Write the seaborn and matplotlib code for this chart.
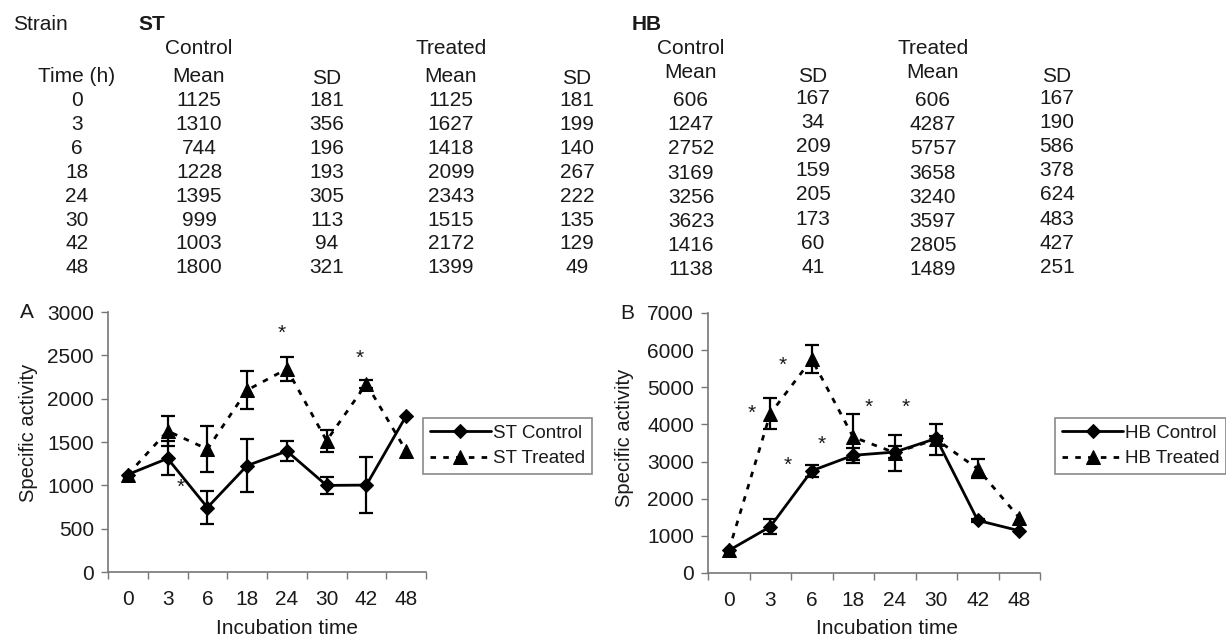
import matplotlib
matplotlib.use('Agg')
import matplotlib.pyplot as plt
import seaborn as sns
import numpy as np
import pandas as pd
from matplotlib.ticker import FixedLocator

# ---------------- data (table) ----------------
times = ['0', '3', '6', '18', '24', '30', '42', '48']
st_ctrl_mean = [1125, 1310, 744, 1228, 1395, 999, 1003, 1800]
st_ctrl_sd = [181, 356, 196, 193, 305, 113, 94, 321]
st_trt_mean = [1125, 1627, 1418, 2099, 2343, 1515, 2172, 1399]
st_trt_sd = [181, 199, 140, 267, 222, 135, 129, 49]
hb_ctrl_mean = [606, 1247, 2752, 3169, 3256, 3623, 1416, 1138]
hb_ctrl_sd = [167, 34, 209, 159, 205, 173, 60, 41]
hb_trt_mean = [606, 4287, 5757, 3658, 3240, 3597, 2805, 1489]
hb_trt_sd = [167, 190, 586, 378, 624, 483, 427, 251]

# error-bar half lengths as drawn in the charts (0 = no bar visible)
st_ctrl_bar = [0, 196, 193, 305, 113, 94, 321, 0]
st_trt_bar = [0, 175, 267, 222, 135, 129, 49, 0]
hb_ctrl_bar = [0, 209, 159, 205, 173, 60, 41, 0]
hb_trt_bar = [0, 417, 378, 624, 483, 427, 251, 0]

st_yticks = [0, 500, 1000, 1500, 2000, 2500, 3000]
hb_yticks = [0, 1000, 2000, 3000, 4000, 5000, 6000, 7000]

# significance asterisks (category position, value)
st_stars = [(3.88, 2758), (5.84, 2469), (1.34, 981)]
hb_stars = [(0.56, 4308), (1.31, 5600), (1.43, 2908), (2.25, 3473), (3.38, 4469), (4.27, 4469)]

# ---------------- style ----------------
sns.set_style('ticks')
plt.rcParams['font.family'] = ['Liberation Sans', 'DejaVu Sans']
INK = '#1a1a1a'
AXC = '#777777'

W, H = 1226, 638
fig = plt.figure(figsize=(W / 100, H / 100), dpi=100)


def fx(x):
    return x / W


def fy(y):
    return 1 - y / H


# ---------------- table ----------------
TFS = 15


def t(x, y, s, ha='center', bold=False):
    fig.text(fx(x), fy(y), s, ha=ha, va='center', fontsize=TFS, color=INK,
             fontweight='bold' if bold else 'normal')


t(13, 25, 'Strain', ha='left')
t(138, 25, 'ST', ha='left', bold=True)
t(199, 49, 'Control')
t(451, 49, 'Treated')
t(77, 77, 'Time (h)')
t(199, 77, 'Mean')
t(327, 78, 'SD')
t(451, 77, 'Mean')
t(577, 78, 'SD')
for k in range(len(times)):
    y = 101 + 23.8 * k
    t(77, y, times[k])
    t(199, y, str(st_ctrl_mean[k]))
    t(327, y, str(st_ctrl_sd[k]))
    t(451, y, str(st_trt_mean[k]))
    t(577, y, str(st_trt_sd[k]))

t(632, 25, 'HB', ha='left', bold=True)
t(691, 48, 'Control')
t(933, 48, 'Treated')
t(691, 72, 'Mean')
t(813, 76, 'SD')
t(933, 72, 'Mean')
t(1057, 76, 'SD')
for k in range(len(times)):
    y = 100.5 + 24.2 * k
    t(691, y, str(hb_ctrl_mean[k]))
    t(813, y - 2.5, str(hb_ctrl_sd[k]))
    t(933, y, str(hb_trt_mean[k]))
    t(1057, y - 2.5, str(hb_trt_sd[k]))


# ---------------- panels ----------------
def bars(ax, pos, mean, err):
    keep = [i for i in range(len(pos)) if err[i] > 0]
    ax.errorbar([pos[i] for i in keep], [mean[i] for i in keep],
                yerr=[err[i] for i in keep], fmt='none', ecolor='black',
                elinewidth=1.6, capsize=5, capthick=1.6, zorder=2)


def panel(rect, cm, cbar, tm, tbar, names, yticks, stars, leg_xy, letter_xy,
          letter, ylab_xy, xlab_xy):
    ax = fig.add_axes(rect)
    pos = np.arange(len(times))
    df = pd.DataFrame({'pos': pos, 'ctrl': cm, 'trt': tm})
    sns.lineplot(data=df, x='pos', y='trt', ax=ax, color='black', lw=2,
                 linestyle=(0, (2, 2.6)), marker='^', markersize=10,
                 markeredgecolor='black', label=names[1], zorder=3)
    sns.lineplot(data=df, x='pos', y='ctrl', ax=ax, color='black', lw=2,
                 linestyle='-', marker='D', markersize=7.5,
                 markeredgecolor='black', label=names[0], zorder=4)
    bars(ax, pos, tm, tbar)
    bars(ax, pos, cm, cbar)

    ax.set_xlim(-0.5, len(times) - 0.5)
    ax.set_ylim(yticks[0], yticks[-1])
    ax.set_xticks(pos)
    ax.set_xticklabels(times)
    ax.xaxis.set_minor_locator(FixedLocator(np.arange(-0.5, len(times), 1.0)))
    ax.set_yticks(yticks)
    ax.tick_params(axis='x', which='major', length=0, pad=13, labelsize=15,
                   labelcolor=INK)
    ax.tick_params(axis='x', which='minor', length=5, width=1, color=AXC,
                   direction='out')
    ax.tick_params(axis='y', length=5, width=1, color=AXC, pad=5,
                   labelsize=15, labelcolor=INK)
    for s in ['top', 'right']:
        ax.spines[s].set_visible(False)
    for s in ['left', 'bottom']:
        ax.spines[s].set_color(AXC)
        ax.spines[s].set_linewidth(1.2)
    ax.set_xlabel('')
    ax.set_ylabel('')
    ax.set_facecolor('none')

    for (xs, ys) in stars:
        ax.text(xs, ys, '*', ha='center', va='center', fontsize=15, color=INK)

    h, l = ax.get_legend_handles_labels()
    order = [l.index(names[0]), l.index(names[1])]
    leg = ax.legend([h[i] for i in order], [l[i] for i in order],
                    loc='upper left', bbox_to_anchor=(fx(leg_xy[0]), fy(leg_xy[1])),
                    bbox_transform=fig.transFigure, borderaxespad=0,
                    fontsize=13.5, handlelength=3.3, handletextpad=0.1,
                    borderpad=0.35, labelspacing=0.45, fancybox=False,
                    framealpha=1, edgecolor='#8a8a8a')
    leg.get_frame().set_linewidth(1.2)
    for txt in leg.get_texts():
        txt.set_color(INK)

    fig.text(fx(letter_xy[0]), fy(letter_xy[1]), letter, ha='center', va='center',
             fontsize=15, color=INK)
    fig.text(fx(ylab_xy[0]), fy(ylab_xy[1]), 'Specific activity', rotation=90,
             ha='center', va='center', fontsize=14.5, color=INK)
    fig.text(fx(xlab_xy[0]), fy(xlab_xy[1]), 'Incubation time', ha='center',
             va='center', fontsize=15, color=INK)
    return ax


panel([fx(108), fy(572), (426 - 108) / W, (572 - 312) / H],
      st_ctrl_mean, st_ctrl_bar, st_trt_mean, st_trt_bar,
      ['ST Control', 'ST Treated'], st_yticks, st_stars,
      (423, 418), (27, 312), 'A', (29, 433), (287, 628))

panel([fx(708), fy(573), (1040 - 708) / W, (573 - 313) / H],
      hb_ctrl_mean, hb_ctrl_bar, hb_trt_mean, hb_trt_bar,
      ['HB Control', 'HB Treated'], hb_yticks, hb_stars,
      (1055, 418), (627, 313), 'B', (625, 438), (887, 628))

fig.savefig('out.png', dpi=100)
